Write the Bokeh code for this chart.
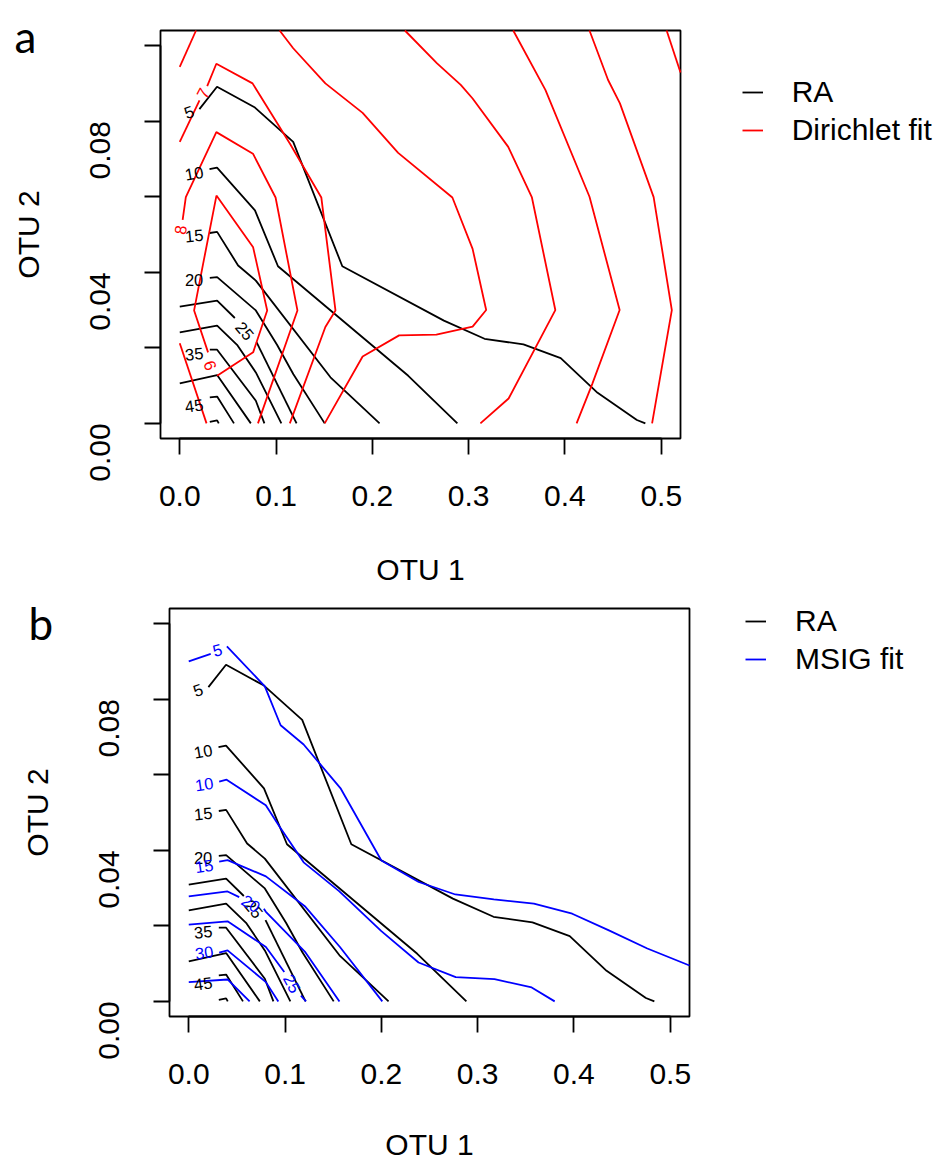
import math
from bokeh.plotting import figure
from bokeh.models import Range1d, FixedTicker, NumeralTickFormatter, Legend, LegendItem, Label
from bokeh.layouts import column
from bokeh.embed import file_html
from bokeh.resources import INLINE
from bokeh.core.properties import value

FONT = "Liberation Sans"

# ---------------- RA contour lines (shared by both panels) ----------------
ra_x = [
    [0.0204, 0.0387, 0.0781, 0.1178, 0.1688, 0.2743, 0.3165, 0.3569, 0.3956, 0.4339, 0.4747, 0.4835],  # 5
    [0.0309, 0.0387, 0.0781, 0.1020, 0.2373, 0.2883],                                              # 10
    [0.0312, 0.0388, 0.0606, 0.0790, 0.1565, 0.1970, 0.2075],                                      # 15
    [0.0312, 0.0388, 0.0790, 0.1010, 0.1180, 0.1505],                                              # 20
    [0.0, 0.0388, 0.0572],                                                                         # 25 (a)
    [0.0797, 0.1213],                                                                              # 25 (b)
    [0.0, 0.0388, 0.0595, 0.0790, 0.1055],                                                         # 30
    [0.0312, 0.0388, 0.0790, 0.0879],                                                              # 35
    [0.0, 0.0388, 0.0738],                                                                         # 40
    [0.0312, 0.0388, 0.0563],                                                                      # 45
    [0.0312, 0.0388, 0.0405],                                                                      # 50
]
ra_y = [
    [0.0832, 0.0891, 0.0836, 0.0745, 0.0416, 0.0272, 0.0224, 0.0209, 0.0173, 0.0081, 0.0009, 0.0],
    [0.0673, 0.0677, 0.0564, 0.0416, 0.0126, 0.0],
    [0.0504, 0.0507, 0.0418, 0.0378, 0.0122, 0.0025, 0.0],
    [0.0385, 0.0387, 0.0299, 0.0208, 0.0130, 0.0],
    [0.0309, 0.0325, 0.0279],
    [0.0215, 0.0],
    [0.0241, 0.0259, 0.0208, 0.0135, 0.0],
    [0.0195, 0.0195, 0.0060, 0.0],
    [0.0106, 0.0128, 0.0],
    [0.0069, 0.0071, 0.0],
    [0.0004, 0.0008, 0.0],
]
ra_lab_text = ["5", "10", "15", "20", "25", "35", "45"]
ra_lab_x = [0.0097, 0.0149, 0.0149, 0.0149, 0.0676, 0.0149, 0.0149]
ra_lab_y = [0.0824, 0.0662, 0.0497, 0.0380, 0.0245, 0.0184, 0.0047]
ra_lab_ang = [20, 10, 5, 0, -50, 5, 8]

# ---------------- Dirichlet fit contour lines (panel a) ----------------
dir_x = [
    [0.0, 0.0169],
    [0.0, 0.0205],
    [0.0285, 0.0380, 0.0756, 0.1143, 0.1470, 0.1617, 0.1512, 0.1143],
    [0.0030, 0.0063, 0.0380, 0.0760, 0.0995, 0.1222, 0.0812],
    [0.0, 0.0278],
    [0.0294, 0.0149, 0.0250, 0.0381, 0.0762, 0.0908, 0.0762, 0.0388],
    [0.1037, 0.1178, 0.1512, 0.1899, 0.2268, 0.2831, 0.3041, 0.3182, 0.3041, 0.2665, 0.2278, 0.1899, 0.1505],
    [0.2338, 0.2672, 0.2918, 0.3041, 0.3411, 0.3657, 0.3900, 0.3415, 0.3122],
    [0.3463, 0.3797, 0.4255, 0.4568, 0.4283, 0.4121],
    [0.4255, 0.4448, 0.4571, 0.4921, 0.5110, 0.4905],
    [0.5056, 0.5200],
]
dir_y = [
    [0.0944, 0.1040],
    [0.0745, 0.0855],
    [0.0893, 0.0952, 0.0900, 0.0741, 0.0598, 0.0299, 0.0255, 0.0],
    [0.0539, 0.0599, 0.0771, 0.0714, 0.0598, 0.0299, 0.0],
    [0.0212, 0.0],
    [0.0188, 0.0299, 0.0432, 0.0603, 0.0466, 0.0299, 0.0188, 0.0126],
    [0.1040, 0.0993, 0.0900, 0.0822, 0.0716, 0.0598, 0.0462, 0.0300, 0.0256, 0.0235, 0.0233, 0.0177, 0.0],
    [0.1040, 0.0953, 0.0896, 0.0860, 0.0732, 0.0598, 0.0300, 0.0066, 0.0],
    [0.1040, 0.0883, 0.0600, 0.0300, 0.0104, 0.0],
    [0.1040, 0.0909, 0.0847, 0.0599, 0.0300, 0.0],
    [0.1040, 0.0929],
]
dir_lab_text = ["7", "8", "9"]
dir_lab_x = [0.0242, 0.0007, 0.0312]
dir_lab_y = [0.0874, 0.0512, 0.0153]
dir_lab_ang = [63, 82, 111]

# ---------------- MSIG fit contour lines (panel b) ----------------
msig_x = [
    [0.0, 0.0228],
    [0.0396, 0.0790, 0.0954, 0.1193, 0.1579, 0.2000, 0.2388, 0.2769, 0.3168, 0.3584, 0.3982, 0.4363, 0.4762, 0.5200],
    [0.0316, 0.0393, 0.0800, 0.0947, 0.1193, 0.1561, 0.2000, 0.2386, 0.2772, 0.3175, 0.3561, 0.3800],
    [0.0316, 0.0403, 0.0801, 0.1205, 0.1570, 0.2010],
    [0.0, 0.0403, 0.0524],
    [0.0780, 0.0801, 0.1205, 0.1565],
    [0.0, 0.0403, 0.0801, 0.0992],
    [0.1165, 0.1218],
    [0.0316, 0.0403, 0.0801, 0.0930],
    [0.0, 0.0403, 0.0632],
]
msig_y = [
    [0.0900, 0.0920],
    [0.0940, 0.0834, 0.0731, 0.0680, 0.0563, 0.0373, 0.0316, 0.0283, 0.0270, 0.0259, 0.0232, 0.0188, 0.0140, 0.0095],
    [0.0582, 0.0587, 0.0519, 0.0461, 0.0368, 0.0292, 0.0186, 0.0103, 0.0064, 0.0059, 0.0037, 0.0],
    [0.0370, 0.0374, 0.0331, 0.0252, 0.0144, 0.0],
    [0.0278, 0.0291, 0.0276],
    [0.0245, 0.0237, 0.0132, 0.0],
    [0.0203, 0.0212, 0.0144, 0.0078],
    [0.0015, 0.0],
    [0.0129, 0.0135, 0.0051, 0.0],
    [0.0051, 0.0058, 0.0],
]
msig_lab_text = ["5", "10", "15", "20", "25", "30"]
msig_lab_x = [0.0298, 0.0160, 0.0160, 0.0645, 0.1072, 0.0160]
msig_lab_y = [0.0930, 0.0575, 0.0358, 0.0259, 0.0047, 0.0129]
msig_lab_ang = [15, 8, 8, -32, -62, 8]

x_ticks = [0.0, 0.1, 0.2, 0.3, 0.4, 0.5]
y_ticks = [0.0, 0.02, 0.04, 0.06, 0.08, 0.1]
x_lim = (-0.02, 0.52)     # R's 4% extended plot region for data range 0..0.5
y_lim = (-0.004, 0.104)   # R's 4% extended plot region for data range 0..0.1

# ---------------- layout (page pixels) ----------------
PAGE_LEFT, PAGE_TOP = 0, 0
FIG_W = 948
LW = 1.8
TXT = "30px"


def make_panel(fig_top, fig_h, box, fit_x, fit_y, fit_color, fit_name, lab_sets,
               letter, letter_xy, legend_left, legend_row1, xlab_standoff):
    L, T, R, B = box
    kx = (x_lim[1] - x_lim[0]) / (R - L)
    ky = (y_lim[1] - y_lim[0]) / (B - T)
    xr = Range1d(x_lim[0] - (L - PAGE_LEFT) * kx, x_lim[1] + (PAGE_LEFT + FIG_W - R) * kx)
    yr = Range1d(y_lim[0] - (fig_top + fig_h - B) * ky, y_lim[1] + (T - fig_top) * ky)
    p = figure(width=FIG_W, height=fig_h, x_range=xr, y_range=yr,
               output_backend="svg", toolbar_location=None,
               min_border=0, min_border_left=0, min_border_right=0,
               min_border_top=0, min_border_bottom=0,
               background_fill_color="white", border_fill_color="white")
    p.outline_line_color = None
    p.xgrid.visible = False
    p.ygrid.visible = False

    # plot box
    p.quad(left=[x_lim[0]], right=[x_lim[1]], bottom=[y_lim[0]], top=[y_lim[1]],
           fill_color=None, line_color="black", line_width=LW)

    for ax in (p.xaxis[0], p.yaxis[0]):
        ax.axis_line_color = "black"
        ax.axis_line_width = LW
        ax.major_tick_line_color = "black"
        ax.major_tick_line_width = LW
        ax.major_tick_out = 16
        ax.major_tick_in = 0
        ax.minor_tick_line_color = None
        ax.major_label_text_font = FONT
        ax.major_label_text_font_size = TXT
        ax.major_label_text_color = "black"
        ax.axis_label_text_font = FONT
        ax.axis_label_text_font_size = TXT
        ax.axis_label_text_font_style = "normal"
        ax.axis_label_text_color = "black"
    xa = p.xaxis[0]
    xa.fixed_location = y_lim[0]
    xa.bounds = (x_ticks[0], x_ticks[-1])
    xa.ticker = FixedTicker(ticks=x_ticks, minor_ticks=[])
    xa.formatter = NumeralTickFormatter(format="0.0")
    xa.major_label_standoff = 31
    xa.axis_label = "OTU 1"
    xa.axis_label_standoff = xlab_standoff
    ya = p.yaxis[0]
    ya.fixed_location = x_lim[0]
    ya.bounds = (y_ticks[0], y_ticks[-1])
    ya.ticker = FixedTicker(ticks=y_ticks, minor_ticks=[])
    ya.formatter = NumeralTickFormatter(format="0.00")
    ya.major_label_overrides = {0.02: "", 0.06: "", 0.1: ""}
    ya.major_label_orientation = math.pi / 2
    ya.major_label_standoff = 44
    ya.axis_label = "OTU 2"
    ya.axis_label_standoff = 33

    r_ra = p.multi_line(xs=ra_x, ys=ra_y, line_color="black", line_width=LW)
    r_fit = p.multi_line(xs=fit_x, ys=fit_y, line_color=fit_color, line_width=LW)
    for (tx, ty, tt, ta, tc) in lab_sets:
        p.text(x=tx, y=ty, text=tt, angle=ta, angle_units="deg",
               text_align="center", text_baseline="middle",
               text_font=value(FONT), text_font_size="16.5px", text_color=tc)

    row_h, gap = 36, 2
    leg_h = 2 * row_h + gap
    legend_top = legend_row1 - row_h / 2
    legend = Legend(items=[LegendItem(label="RA", renderers=[r_ra]),
                           LegendItem(label=fit_name, renderers=[r_fit])],
                    location=(legend_left - PAGE_LEFT, fig_top + fig_h - legend_top - leg_h),
                    orientation="vertical",
                    glyph_width=21, glyph_height=row_h, label_height=row_h,
                    label_standoff=29, spacing=gap, padding=0, margin=0,
                    border_line_alpha=0, background_fill_alpha=0,
                    label_text_font=FONT, label_text_font_size=TXT,
                    label_text_color="black")
    p.add_layout(legend, "center")
    lx, ly = letter_xy
    p.add_layout(Label(x=lx - PAGE_LEFT, y=fig_top + fig_h - ly, x_units="screen", y_units="screen",
                       text=letter, text_font="Lato", text_font_size="44px",
                       text_align="left", text_baseline="alphabetic", text_color="black"))
    return p


pa = make_panel(0, 590, (160, 30, 680, 438), dir_x, dir_y, "#FF0000", "Dirichlet fit",
                [(ra_lab_x, ra_lab_y, ra_lab_text, ra_lab_ang, "black"),
                 (dir_lab_x, dir_lab_y, dir_lab_text, dir_lab_ang, "#FF0000")],
                "a", (14, 35), 741.7, 92, 44)
pb = make_panel(590, 572, (169, 608, 689, 1016), msig_x, msig_y, "#0000FF", "MSIG fit",
                [(ra_lab_x, ra_lab_y, ra_lab_text, ra_lab_ang, "black"),
                 (msig_lab_x, msig_lab_y, msig_lab_text, msig_lab_ang, "#0000FF")],
                "b", (28, 622), 745, 621, 41)

layout = column(pa, pb, spacing=0)
open("out.html", "w").write(file_html(layout, INLINE))
